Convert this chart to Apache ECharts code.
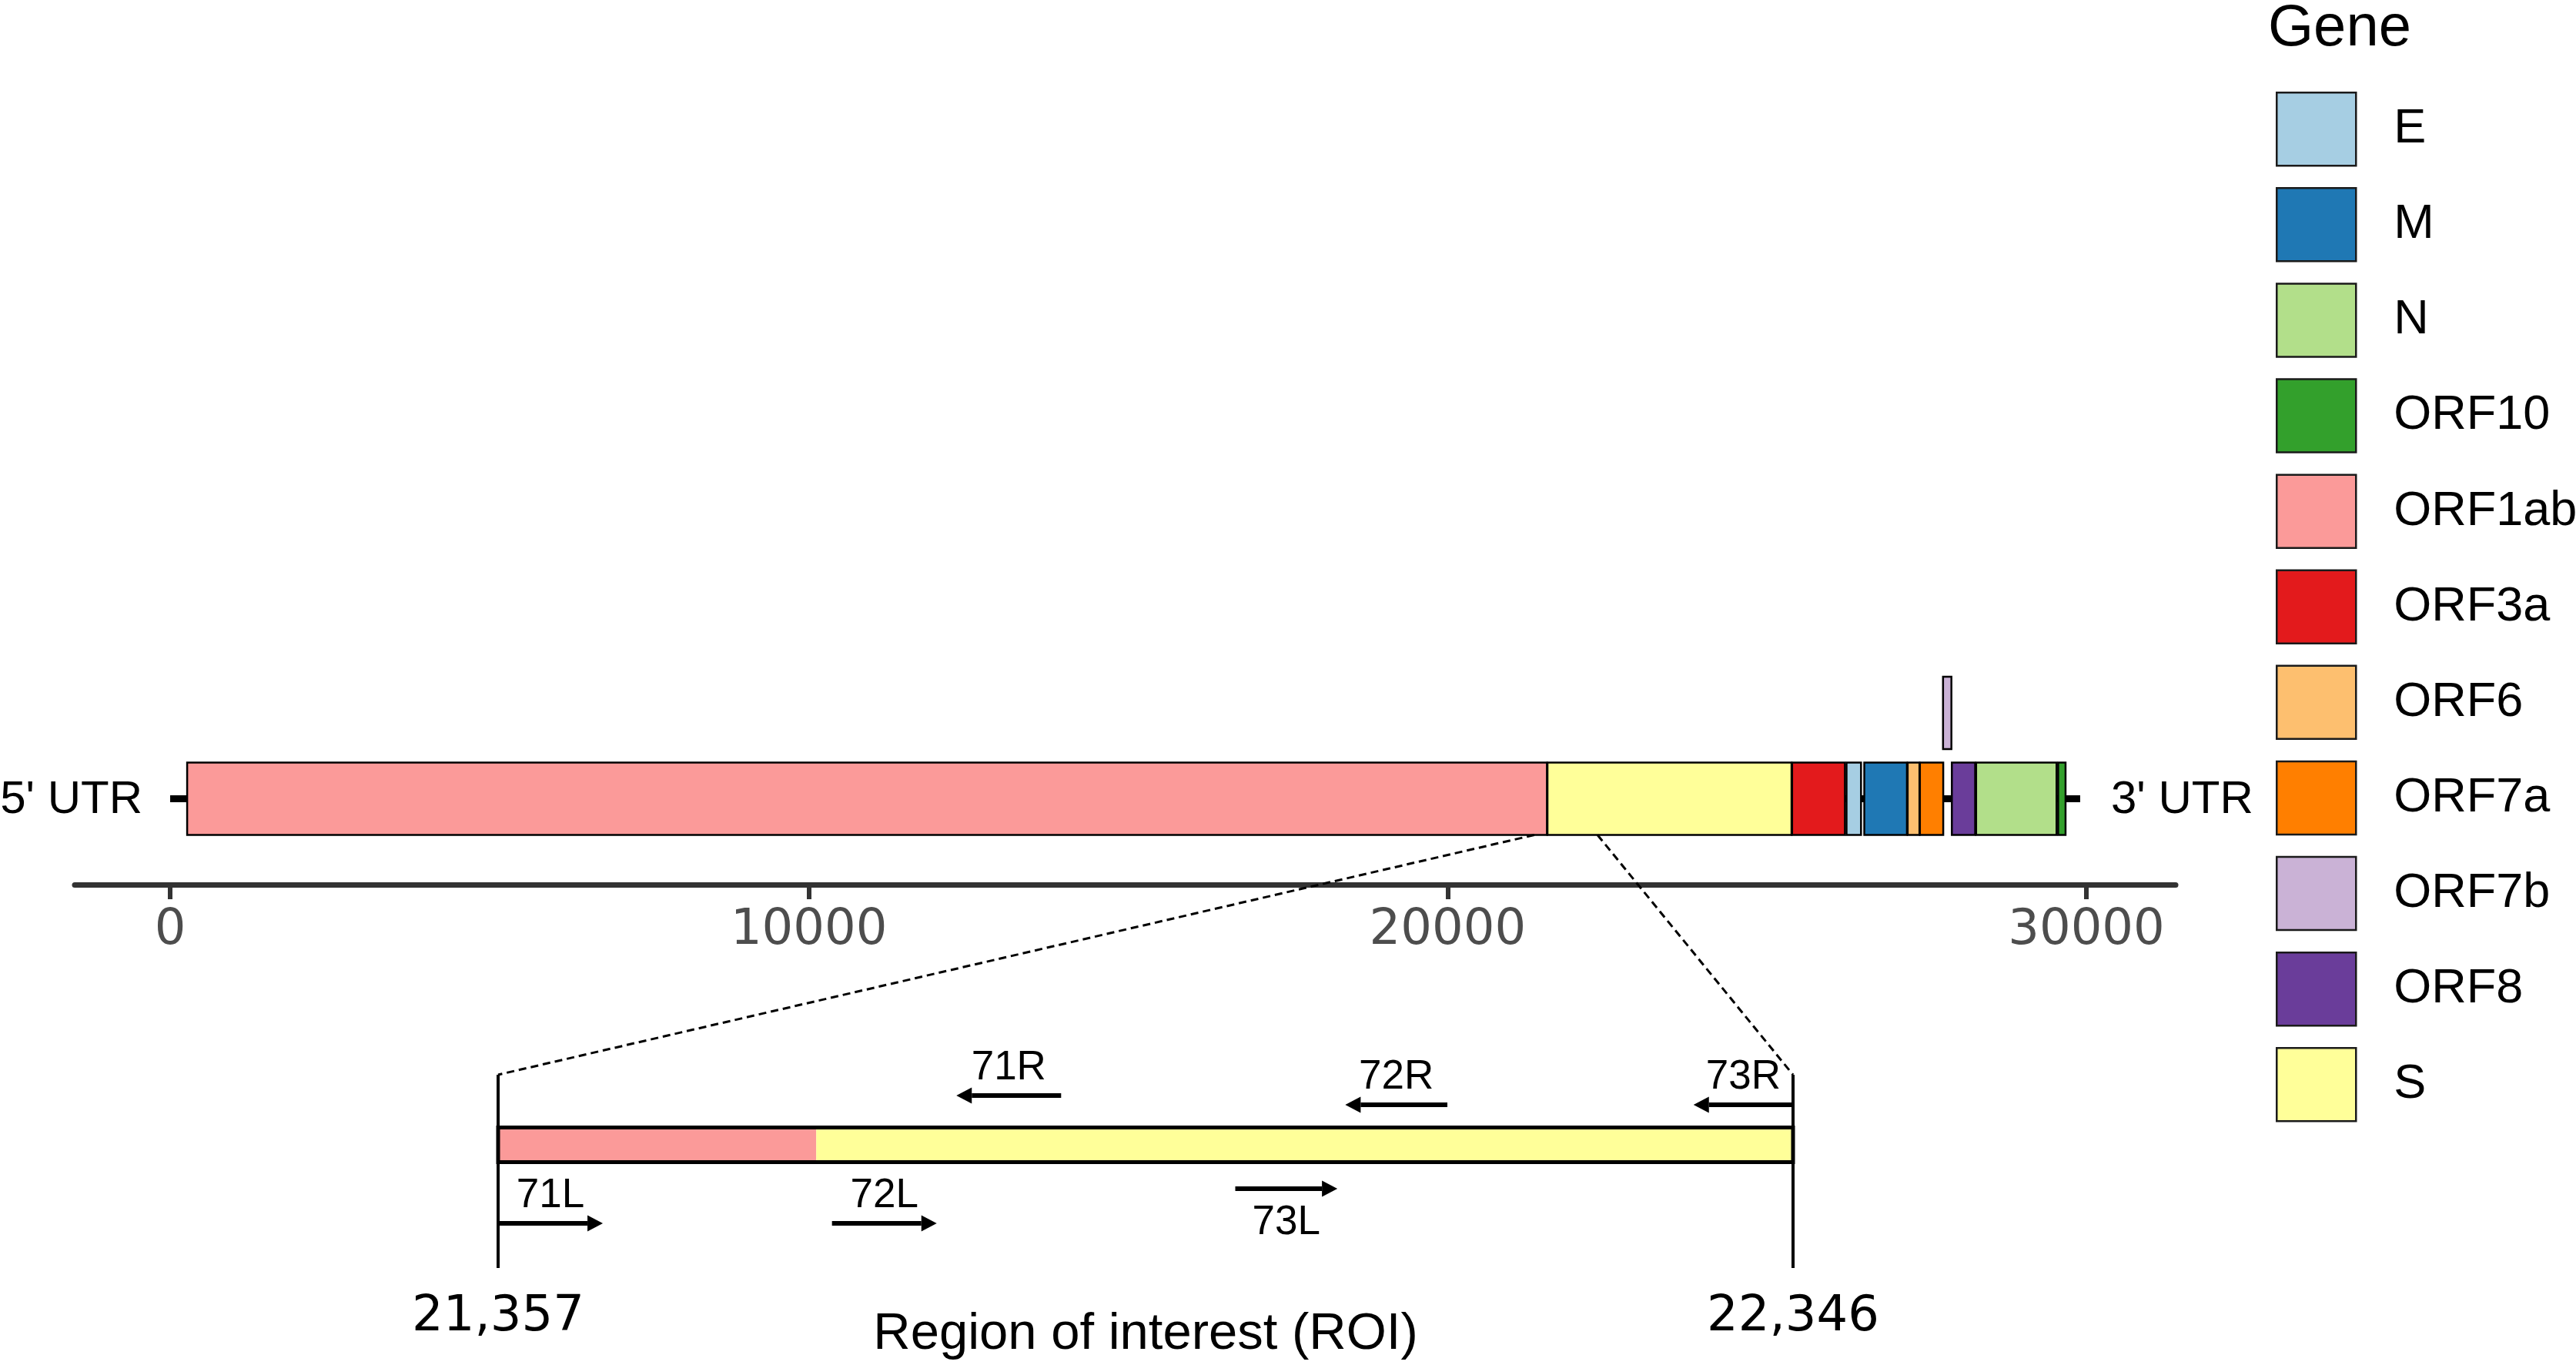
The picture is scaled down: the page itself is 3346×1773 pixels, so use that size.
<!DOCTYPE html>
<html>
<head>
<meta charset="utf-8">
<script src="https://cdn.jsdelivr.net/npm/echarts@6/dist/echarts.min.js"></script>
<style>
html,body{margin:0;padding:0;background:#fff;}
#main{width:3346px;height:1773px;}
</style>
</head>
<body>
<div id="main"></div>
<script>
// genome map, positions in bp
var geneNames = ['ORF1ab','S','ORF3a','E','M','ORF6','ORF7a','ORF7b','ORF8','N','ORF10'];
var geneStart = [266,21563,25393,26245,26523,27202,27394,27756,27894,28274,29558];
var geneEnd   = [21555,25384,26220,26472,27191,27387,27759,27887,28259,29533,29674];
var geneRow   = [0,0,0,0,0,0,0,1,0,0,0];
var genomeEnds = [0, 29903];
var xTicks = [0, 10000, 20000, 30000];

var legendOrder = ['E','M','N','ORF10','ORF1ab','ORF3a','ORF6','ORF7a','ORF7b','ORF8','S'];
var geneColors = {
    'E':'#A6CEE3','M':'#1F78B4','N':'#B2DF8A','ORF10':'#33A02C','ORF1ab':'#FB9A99',
    'ORF3a':'#E31A1C','ORF6':'#FDBF6F','ORF7a':'#FF7F00','ORF7b':'#CAB2D6','ORF8':'#6A3D9A','S':'#FFFF99'
};

// region of interest
var roiBounds = [21357, 22346];
var roiGene   = ['ORF1ab','S'];
var roiStart  = [21357, 21600];
var roiEnd    = [21600, 22346];

// primers, drawn from tail to head
var primerNames = ['71L','71R','72L','72R','73L','73R'];
var primerFrom  = [21357,21787,21612,22082,21920,22346];
var primerTo    = [21437,21707,21692,22004,21998,22270];
var primerLevel = [-2.04,1.28,-2.04,1.04,-1.14,1.04];
var primerLabelSide = ['top','top','top','top','bottom','top'];

var FONT = '"Liberation Sans", Arial, sans-serif';
var FONT2 = '"DejaVu Sans", sans-serif';
var BAR_H = 0.843;     // main track bar height in row units
var ROI_H = 0.9;       // roi bar height in row units
var ROI_YMIN = -3.2, ROI_YMAX = 1.82;

function geneRect(params, api){
    var a = api.coord([api.value(0), api.value(2)]);
    var b = api.coord([api.value(1), api.value(2)]);
    var h = api.size([0, BAR_H])[1];
    return {type:'rect', shape:{x:a[0], y:a[1]-h/2, width:b[0]-a[0], height:h},
        style:{fill:api.visual('color'), stroke:'#000', lineWidth:2.5}};
}

var series = [];

// backbone line + UTR labels
series.push({
    type:'custom', xAxisIndex:0, yAxisIndex:0, z:1, silent:true,
    data:[[genomeEnds[0], genomeEnds[1], 0]],
    encode:{x:[0,1], y:2},
    renderItem:function(params, api){
        var a = api.coord([api.value(0), api.value(2)]);
        var b = api.coord([api.value(1), api.value(2)]);
        return {type:'group', children:[
            {type:'line', shape:{x1:a[0], y1:a[1], x2:b[0], y2:b[1]}, style:{stroke:'#000', lineWidth:9}},
            {type:'text', x:a[0]-36, y:a[1]+2, style:{text:"5' UTR", align:'right', verticalAlign:'middle', fontSize:60, fontFamily:FONT, fill:'#000'}},
            {type:'text', x:b[0]+40, y:a[1]+2, style:{text:"3' UTR", align:'left', verticalAlign:'middle', fontSize:60, fontFamily:FONT, fill:'#000'}}
        ]};
    }
});

geneNames.forEach(function(g, i){
    series.push({
        name:g, type:'custom', xAxisIndex:0, yAxisIndex:0, z:3,
        itemStyle:{color:geneColors[g]},
        encode:{x:[0,1], y:2},
        data:[[geneStart[i], geneEnd[i], geneRow[i]]],
        renderItem:geneRect
    });
});

// roi fill segments
series.push({
    type:'custom', xAxisIndex:1, yAxisIndex:1, z:2, silent:true,
    encode:{x:[0,1], y:2},
    data:roiStart.map(function(s, i){ return [s, roiEnd[i], 0, i]; }),
    renderItem:function(params, api){
        var a = api.coord([api.value(0), api.value(2)]);
        var b = api.coord([api.value(1), api.value(2)]);
        var h = api.size([0, ROI_H])[1];
        return {type:'rect', shape:{x:a[0], y:a[1]-h/2, width:b[0]-a[0], height:h},
            style:{fill:geneColors[roiGene[api.value(3)]]}};
    }
});

// roi outline + boundary lines
series.push({
    type:'custom', xAxisIndex:1, yAxisIndex:1, z:3, silent:true,
    encode:{x:[0,1], y:2},
    data:[[roiBounds[0], roiBounds[1], 0]],
    renderItem:function(params, api){
        var a = api.coord([api.value(0), api.value(2)]);
        var b = api.coord([api.value(1), api.value(2)]);
        var h = api.size([0, ROI_H])[1];
        var cs = params.coordSys;
        return {type:'group', children:[
            {type:'rect', shape:{x:a[0], y:a[1]-h/2, width:b[0]-a[0], height:h}, style:{fill:null, stroke:'#000', lineWidth:5}},
            {type:'line', shape:{x1:a[0], y1:cs.y, x2:a[0], y2:cs.y+cs.height}, style:{stroke:'#000', lineWidth:4}},
            {type:'line', shape:{x1:b[0], y1:cs.y, x2:b[0], y2:cs.y+cs.height}, style:{stroke:'#000', lineWidth:4}}
        ]};
    }
});

// primer arrows
series.push({
    type:'custom', xAxisIndex:1, yAxisIndex:1, z:4, silent:true,
    encode:{x:[0,1], y:2},
    data:primerFrom.map(function(f, i){ return [f, primerTo[i], primerLevel[i]]; }),
    renderItem:function(params, api){
        var i = params.dataIndex;
        var t = api.coord([api.value(0), api.value(2)]);
        var h = api.coord([api.value(1), api.value(2)]);
        var dir = h[0] > t[0] ? 1 : -1;
        var base = h[0] - dir*20;
        var mid = (t[0] + h[0]) / 2;
        var dy = primerLabelSide[i] === 'top' ? -36 : 44;
        return {type:'group', children:[
            {type:'line', shape:{x1:t[0], y1:t[1], x2:base, y2:h[1]}, style:{stroke:'#000', lineWidth:6}},
            {type:'polygon', shape:{points:[[h[0], h[1]], [base, h[1]-10.5], [base, h[1]+10.5]]}, style:{fill:'#000'}},
            {type:'text', x:mid, y:h[1]+dy, style:{text:primerNames[i], align:'center', verticalAlign:'middle', fontSize:53, fontFamily:FONT, fill:'#000'}}
        ]};
    }
});

var chart = echarts.init(document.getElementById('main'));
var option = {
    animation:false,
    backgroundColor:'#fff',
    title:{text:'Gene', left:2946, top:0, padding:0,
        textStyle:{fontSize:76, fontWeight:'normal', color:'#000', fontFamily:FONT}},
    legend:{
        orient:'vertical', left:2956, top:119, padding:0,
        itemWidth:103, itemHeight:95, itemGap:26.6,
        selectedMode:false, icon:'rect',
        itemStyle:{borderColor:'#1a1a1a', borderWidth:2.5},
        textStyle:{fontSize:63, color:'#000', fontFamily:FONT, padding:[0,0,0,44]},
        data:legendOrder.map(function(g){ return {name:g, itemStyle:{color:geneColors[g], borderColor:'#1a1a1a', borderWidth:2.5}}; })
    },
    grid:[
        {left:97, top:814.5, width:2729, height:334.5, outerBoundsMode:'none'},
        {left:647, top:1396, width:1682, height:251, outerBoundsMode:'none'}
    ],
    xAxis:[
        {type:'value', gridIndex:0, min:-1495, max:31398,
            axisLine:{show:true, onZero:false, lineStyle:{color:'#333', width:7}},
            axisTick:{show:true, length:19, customValues:xTicks, lineStyle:{color:'#333', width:6}},
            axisLabel:{customValues:xTicks, fontSize:64, color:'#4d4d4d', margin:28, fontFamily:FONT2,
                formatter:function(v){ return String(v); }},
            splitLine:{show:false}},
        {type:'value', gridIndex:1, min:roiBounds[0], max:roiBounds[1],
            axisLine:{show:false}, axisTick:{show:false}, splitLine:{show:false},
            axisLabel:{customValues:roiBounds, fontSize:64, color:'#000', margin:32, fontFamily:FONT2,
                formatter:function(v){ return Number(v).toLocaleString('en-US'); }},
            name:'Region of interest (ROI)', nameLocation:'middle', nameGap:53, nameMoveOverlap:false,
            nameTextStyle:{fontSize:67, color:'#000', fontFamily:FONT}}
    ],
    yAxis:[
        {type:'value', gridIndex:0, min:-1, max:2, show:false},
        {type:'value', gridIndex:1, min:ROI_YMIN, max:ROI_YMAX, show:false}
    ],
    series:series
};
chart.setOption(option);

// dashed zoom lines from the genome bar to the roi panel
var barBottom = -BAR_H / 2;
var links = roiBounds.map(function(v){
    var p = chart.convertToPixel({xAxisIndex:0, yAxisIndex:0}, [v, barBottom]);
    var q = chart.convertToPixel({xAxisIndex:1, yAxisIndex:1}, [v, ROI_YMAX]);
    return {type:'line', z:10, silent:true,
        shape:{x1:p[0], y1:p[1], x2:q[0], y2:q[1]},
        style:{stroke:'#000', lineWidth:3, lineDash:[10,6]}};
});
chart.setOption({graphic:links});
</script>
</body>
</html>
